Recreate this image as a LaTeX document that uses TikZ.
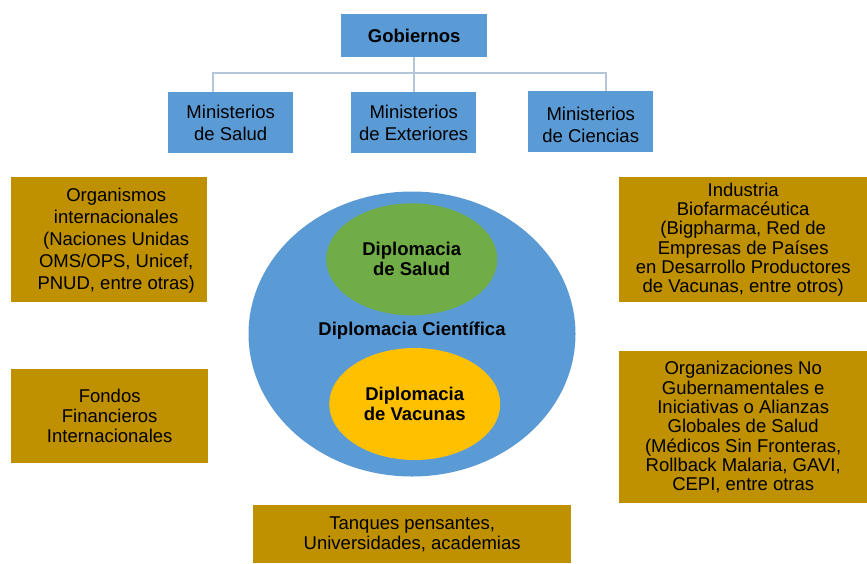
\documentclass[tikz,border=0pt]{standalone}
\usepackage{fontspec}
\setmainfont{Liberation Sans}
\usetikzlibrary{shapes.geometric}
\definecolor{boxblue}{HTML}{5B9BD5}
\definecolor{boxgold}{HTML}{BF9000}
\definecolor{ellgreen}{HTML}{70AD47}
\definecolor{ellyellow}{HTML}{FFC000}
\definecolor{connc}{HTML}{B4C7DA}
\tikzset{
  basebox/.style={draw=none, anchor=north west, inner sep=0pt, align=center, text=black},
  bluebox/.style={basebox, fill=boxblue, font=\fontsize{18.5}{22}\selectfont},
  goldbox/.style={basebox, fill=boxgold},
  conn/.style={draw=connc, line width=2pt},
  ell/.style={ellipse, draw=none, inner sep=0pt, align=center, text=black, font=\bfseries\fontsize{18.5}{20}\selectfont}
}
\begin{document}
\begin{tikzpicture}[x=1pt,y=-1pt]
\useasboundingbox (0,0) rectangle (867,563);
% government boxes
\node[bluebox, minimum width=146, minimum height=43, font=\bfseries\fontsize{18.5}{22}\selectfont] (gob) at (341,14) {Gobiernos};
\node[bluebox, minimum width=125, minimum height=61] (sal) at (168,92) {Ministerios\\de Salud};
\node[bluebox, minimum width=125, minimum height=61] (ext) at (351,92) {Ministerios\\de Exteriores};
\node[bluebox, minimum width=125, minimum height=61,
  label={[yshift=-3pt, align=center, text=black, font=\fontsize{18.5}{22}\selectfont]center:{Ministerios\\de Ciencias}}] (cie) at (528,91) {};
\coordinate (jL) at (213,73);
\coordinate (jR) at (606,73);
\draw[conn] (gob.south) -- (gob.south |- jL);
\draw[conn] (jL |- sal.north) -- (jL) -- (jR) -- (jR |- cie.north);
\draw[conn] (ext.north) -- (ext.north |- jL);
% central ellipses
\node[ell, fill=boxblue, minimum width=327, minimum height=285] (cien) at (412,334) {};
\node[ell, fill=ellgreen, minimum width=171, minimum height=112] (salud) at (411.7,259.3) {Diplomacia\\de Salud};
\node[ell, fill=ellyellow, minimum width=171, minimum height=112] (vac) at (414.7,404) {Diplomacia\\de Vacunas};
\node[ell, font=\bfseries\fontsize{18.5}{20}\selectfont] (cientxt) at (412,331) {Diplomacia Científica};
% gold boxes
\node[goldbox, minimum width=196, minimum height=125,
  label={[xshift=7pt, yshift=-1pt, align=center, text=black, font=\fontsize{18.5}{22}\selectfont]center:{Organismos\\internacionales\\(Naciones Unidas\\OMS/OPS, Unicef,\\PNUD, entre otras)}}] (org) at (11,177) {};
\node[goldbox, minimum width=197, minimum height=94, font=\fontsize{18.5}{20}\selectfont] (fon) at (11,369) {Fondos\\Financieros\\Internacionales};
\node[goldbox, minimum width=248, minimum height=125, font=\fontsize{18.5}{19.2}\selectfont] (ind) at (619,177) {Industria\\Biofarmacéutica\\(Bigpharma, Red de\\Empresas de Países\\en Desarrollo Productores\\de Vacunas, entre otros)};
\node[goldbox, minimum width=248, minimum height=152, font=\fontsize{18.5}{19.3}\selectfont] (ong) at (619,351) {Organizaciones No\\Gubernamentales e\\Iniciativas o Alianzas\\Globales de Salud\\(Médicos Sin Fronteras,\\Rollback Malaria, GAVI,\\CEPI, entre otras};
\node[goldbox, minimum width=318, minimum height=58, font=\fontsize{18.5}{19.3}\selectfont] (tan) at (253,505) {Tanques pensantes,\\Universidades, academias};
\end{tikzpicture}
\end{document}
